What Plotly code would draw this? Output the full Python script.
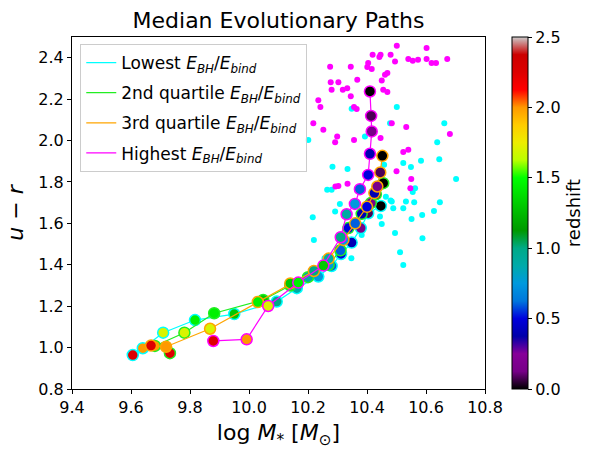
import plotly.graph_objects as go

# shared redshift of each snapshot along the median paths
redshift = [2.25, 2.0, 1.7, 1.45, 1.3, 1.0, 0.9, 0.75, 0.6, 0.5, 0.4, 0.15, 0.08, 0.0]

# median paths, one per E_BH/E_bind quartile
lowest_mass = [9.606, 9.640, 9.709, 9.817, 9.950, 10.094, 10.162, 10.235, 10.280, 10.312, 10.348, 10.379, 10.404, 10.447]
lowest_ur = [0.964, 0.997, 1.072, 1.133, 1.162, 1.222, 1.287, 1.343, 1.394, 1.452, 1.507, 1.577, 1.649, 1.684]

q2_mass = [9.732, 9.681, 9.781, 9.882, 10.048, 10.140, 10.200, 10.270, 10.310, 10.337, 10.382, 10.413, 10.430, 10.455]
q2_ur = [0.973, 1.008, 1.072, 1.166, 1.230, 1.300, 1.340, 1.400, 1.470, 1.577, 1.646, 1.698, 1.740, 1.794]

q3_mass = [9.668, 9.719, 9.868, 10.030, 10.140, 10.220, 10.270, 10.320, 10.360, 10.400, 10.425, 10.435, 10.445, 10.452]
q3_ur = [1.010, 1.004, 1.091, 1.220, 1.310, 1.370, 1.430, 1.520, 1.600, 1.680, 1.746, 1.778, 1.846, 1.926]

highest_mass = [9.879, 9.992, 10.065, 10.167, 10.252, 10.311, 10.331, 10.359, 10.376, 10.404, 10.410, 10.416, 10.414, 10.410]
highest_ur = [1.032, 1.040, 1.201, 1.314, 1.396, 1.533, 1.644, 1.694, 1.765, 1.834, 1.936, 2.044, 2.119, 2.237]

# z=0 galaxies of the extreme quartiles
low_z0_mass = [10.348, 10.501, 10.478, 10.393, 10.662, 10.638, 10.645, 10.583, 10.523, 10.549, 10.458,
               10.283, 10.334, 10.702, 10.563, 10.555, 10.484, 10.532, 10.560, 10.647, 10.489, 10.523,
               10.627, 10.587, 10.551, 10.495, 10.588, 10.512, 10.523, 10.201, 10.265, 10.280, 10.308,
               10.464, 10.480, 10.444, 10.450, 10.216, 10.382, 10.220, 10.347, 10.256, 10.421, 10.292]
low_z0_ur = [2.153, 2.162, 2.084, 2.019, 2.084, 1.992, 1.910, 1.902, 1.891, 1.872, 1.883,
             1.873, 1.862, 1.814, 1.770, 1.751, 1.705, 1.706, 1.702, 1.702, 1.673, 1.673,
             1.660, 1.640, 1.621, 1.553, 1.528, 1.461, 1.399, 2.003, 1.762, 1.762, 1.694,
             1.729, 1.710, 1.633, 1.597, 1.630, 1.544, 1.520, 1.432, 1.432, 1.754, 1.657]

high_z0_mass = [10.501, 10.602, 10.419, 10.446, 10.480, 10.404, 10.495, 10.540, 10.555, 10.573, 10.602,
                10.619, 10.634, 10.672, 10.275, 10.345, 10.401, 10.416, 10.469, 10.461, 10.450, 10.367,
                10.277, 10.303, 10.333, 10.318, 10.280, 10.455, 10.469, 10.345, 10.356, 10.365, 10.484,
                10.533, 10.299, 10.292, 10.356, 10.446, 10.681, 10.523, 10.540, 10.500, 10.550, 10.547,
                10.334, 10.303, 10.293, 10.235, 10.242, 10.252, 10.218, 10.442]
high_z0_ur = [2.458, 2.447, 2.414, 2.414, 2.414, 2.374, 2.382, 2.394, 2.385, 2.390, 2.394,
              2.374, 2.374, 2.394, 2.356, 2.356, 2.355, 2.345, 2.326, 2.318, 2.290, 2.293,
              2.282, 2.282, 2.253, 2.245, 2.245, 2.245, 2.234, 2.214, 2.162, 2.152, 2.084,
              2.065, 2.019, 1.992, 2.003, 2.012, 2.032, 1.944, 1.955, 1.852, 1.814, 1.770,
              1.791, 1.781, 1.778, 2.194, 2.162, 2.052, 2.084, 2.403]

colorbar_ticks = [0.0, 0.5, 1.0, 1.5, 2.0, 2.5]

# matplotlib nipy_spectral
_stops = [
    (0.00, 0.0, 0.0, 0.0), (0.05, 0.4667, 0.0, 0.5333), (0.10, 0.5333, 0.0, 0.6),
    (0.15, 0.0, 0.0, 0.6667), (0.20, 0.0, 0.0, 0.8667), (0.25, 0.0, 0.4667, 0.8667),
    (0.30, 0.0, 0.6, 0.8667), (0.35, 0.0, 0.6667, 0.6667), (0.40, 0.0, 0.6667, 0.5333),
    (0.45, 0.0, 0.6, 0.0), (0.50, 0.0, 0.7333, 0.0), (0.55, 0.0, 0.8667, 0.0),
    (0.60, 0.0, 1.0, 0.0), (0.65, 0.7333, 1.0, 0.0), (0.70, 0.9333, 0.9333, 0.0),
    (0.75, 1.0, 0.8, 0.0), (0.80, 1.0, 0.6, 0.0), (0.85, 1.0, 0.0, 0.0),
    (0.90, 0.8667, 0.0, 0.0), (0.95, 0.8, 0.0, 0.0), (1.00, 0.8, 0.8, 0.8),
]
nipy_spectral = [[s, f"rgb({int(r*255)},{int(g*255)},{int(b*255)})"] for s, r, g, b in _stops]

FONT = "DejaVu Sans"
fig = go.Figure()

# small dots first so the paths sit on top
fig.add_trace(go.Scatter(x=low_z0_mass, y=low_z0_ur, mode='markers', showlegend=False,
                         marker=dict(color='#00FFFF', size=6)))
fig.add_trace(go.Scatter(x=high_z0_mass, y=high_z0_ur, mode='markers', showlegend=False,
                         marker=dict(color='#FF00FF', size=6)))

ebh = "<i>E</i><sub><i>BH</i></sub>/<i>E</i><sub><i>bind</i></sub>"
paths = [
    ("Lowest " + ebh, lowest_mass, lowest_ur, '#00FFFF'),
    ("2nd quartile " + ebh, q2_mass, q2_ur, '#22EE22'),
    ("3rd quartile " + ebh, q3_mass, q3_ur, '#FFA500'),
    ("Highest " + ebh, highest_mass, highest_ur, '#FF00FF'),
]

for i, (name, xs, ys, col) in enumerate(paths):
    fig.add_trace(go.Scatter(
        x=xs, y=ys, mode='lines+markers', showlegend=False,
        line=dict(color=col, width=1.2),
        marker=dict(
            size=11, color=redshift, colorscale=nipy_spectral, cmin=0, cmax=2.5,
            line=dict(color=col, width=1.5),
            showscale=(i == 0),
            colorbar=dict(
                title=dict(text='redshift', side='right', font=dict(size=18, family=FONT, color='black')),
                tickvals=colorbar_ticks, ticktext=[f"{t:.1f}" for t in colorbar_ticks],
                ticks='outside', ticklen=4, tickcolor='black',
                tickfont=dict(size=16, family=FONT, color='black'),
                thickness=16, len=1, lenmode='fraction', y=0.5, yanchor='middle',
                x=1.065, xanchor='left', xpad=0, ypad=0,
                outlinecolor='black', outlinewidth=1,
            ),
        ),
    ))
    # line-only legend entry
    fig.add_trace(go.Scatter(x=[None], y=[None], mode='lines', name=name, legendgroup=str(i),
                             line=dict(color=col, width=1.2)))

axis_common = dict(showline=True, linecolor='black', linewidth=1, mirror=True,
                   ticks='outside', ticklen=4, tickcolor='black', showgrid=False, zeroline=False,
                   automargin=False,
                   tickfont=dict(size=16, family=FONT, color='black'))

fig.update_layout(
    width=600, height=450,
    margin=dict(l=72, r=115, t=37, b=61, autoexpand=False),
    plot_bgcolor='white', paper_bgcolor='white',
    font=dict(family=FONT, color='black'),
    title=dict(text='Median Evolutionary Paths', x=0.4642, xanchor='center',
               y=0.955, yref='container', yanchor='middle',
               font=dict(size=22, family=FONT, color='black')),
    xaxis=dict(range=[9.4, 10.8], tickvals=[9.4, 9.6, 9.8, 10.0, 10.2, 10.4, 10.6, 10.8],
               ticktext=['9.4', '9.6', '9.8', '10.0', '10.2', '10.4', '10.6', '10.8'],
               title=dict(text='log <i>M</i><sub>*</sub> [<i>M</i><sub>⊙</sub>]',
                          font=dict(size=22, family=FONT), standoff=8),
               **axis_common),
    yaxis=dict(range=[0.8, 2.5], tickvals=[0.8, 1.0, 1.2, 1.4, 1.6, 1.8, 2.0, 2.2, 2.4],
               ticktext=['0.8', '1.0', '1.2', '1.4', '1.6', '1.8', '2.0', '2.2', '2.4'],
               title=dict(text='<i>u</i> − <i>r</i>', font=dict(size=22, family=FONT), standoff=8),
               **axis_common),
    legend=dict(x=0.02, y=0.98, xanchor='left', yanchor='top', tracegroupgap=5,
                bgcolor='rgba(255,255,255,0.8)', bordercolor='#cccccc', borderwidth=1,
                font=dict(size=17, family=FONT, color='black')),
)

# drop the browser's default page margin so the figure sits at the top-left corner
fig.write_html("out.html", config={'displayModeBar': False},
               post_script="document.body.style.margin = '0';")
